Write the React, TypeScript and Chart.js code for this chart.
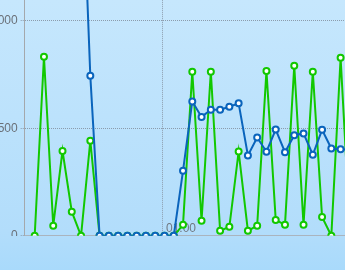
import React, { useEffect, useRef } from 'react';
import { Chart, registerables } from 'chart.js';

Chart.register(...registerables);

// Data (index along the x axis, one value per sample)
const SAMPLE_INDEX = [
  0, 1, 2, 3, 4, 5, 6, 7, 8, 9, 10, 11, 12, 13, 14, 15, 16, 17,
  18, 19, 20, 21, 22, 23, 24, 25, 26, 27, 28, 29, 30, 31, 32, 33, 34,
];
const BLUE_VALUES = [
  null, null, null, null, null, 1860, 744, 0, 0, 0, 0, 0, 0, 0, 0, 0, 302, 625,
  553, 586, 586, 600, 616, 374, 457, 391, 494, 389, 468, 476, 377, 493, 406, 403, 400,
];
const GREEN_VALUES = [
  0, 833, 47, 395, 112, 0, 442, 0, 0, 0, 0, 0, 0, 0, 0, 0, 51, 763,
  70, 763, 23, 42, 392, 23, 47, 767, 74, 51, 791, 51, 763, 88, 0, 828, 30,
];
const Y_TICKS = [0, 500, 1000];
const X_TICK_POSITIONS = [13.84];
const X_TICK_LABELS = ['01:00'];

// Layout constants (view window)
const VIEW_W = 345;
const VIEW_H = 270;
const CLIP_H = 236;
const AXIS_X = 24;
const AXIS_Y = 235;
const PX_PER_Y = 0.215;
const PX_PER_X = 9.27;
const X_MIN = -10 / PX_PER_X;

const FONT = "'Liberation Sans', Arial, sans-serif";

export default function App() {
  const ref = useRef<HTMLCanvasElement | null>(null);

  useEffect(() => {
    document.body.style.margin = '0';
    const canvas = ref.current;
    if (!canvas) return;

    const blue = SAMPLE_INDEX.map((x, i) => ({ x, y: BLUE_VALUES[i] }));
    const green = SAMPLE_INDEX.map((x, i) => ({ x, y: GREEN_VALUES[i] }));

    const chart = new Chart(canvas, {
      type: 'line',
      data: {
        datasets: [
          {
            data: blue as any,
            borderColor: '#0a64bc',
            backgroundColor: '#ffffff',
            borderWidth: 2,
            pointRadius: 3,
            pointBorderWidth: 2,
            pointBackgroundColor: '#ffffff',
            pointBorderColor: '#0a64bc',
            tension: 0,
            spanGaps: false,
          },
          {
            data: green as any,
            borderColor: '#12c800',
            backgroundColor: '#ffffff',
            borderWidth: 2,
            pointRadius: 3,
            pointBorderWidth: 2,
            pointBackgroundColor: '#ffffff',
            pointBorderColor: '#12c800',
            tension: 0,
          },
        ],
      },
      options: {
        responsive: false,
        animation: false,
        events: [],
        layout: { padding: 0 },
        plugins: {
          legend: { display: false },
          tooltip: { enabled: false },
          title: { display: false },
        },
        scales: {
          x: {
            type: 'linear',
            min: X_MIN,
            max: 34.3,
            afterBuildTicks: (scale: any) => {
              scale.ticks = X_TICK_POSITIONS.map((v) => ({ value: v }));
            },
            ticks: {
              autoSkip: false,
              maxRotation: 0,
              align: 'start',
              labelOffset: 3,
              padding: -14,
              color: '#707880',
              font: { family: FONT, size: 12 },
              callback: (_v: any, idx: number) => X_TICK_LABELS[idx],
            },
            grid: {
              color: '#8c9cac',
              drawTicks: false,
              lineWidth: 1,
            },
            border: { display: true, color: '#aab4be', width: 1, dash: [1, 1] },
          },
          y: {
            type: 'linear',
            min: 0,
            max: 1200,
            afterBuildTicks: (scale: any) => {
              scale.ticks = Y_TICKS.map((v) => ({ value: v }));
            },
            ticks: {
              padding: 3,
              color: '#6a7078',
              font: { family: FONT, size: 12 },
              callback: (v: any) => String(v),
            },
            grid: {
              color: '#8c9cac',
              lineWidth: 1,
              tickLength: 4,
              tickColor: '#8c9cac',
              tickBorderDash: [1, 1],
            },
            border: { display: true, color: '#a4a8ac', width: 1, dash: [1, 1] },
          },
        },
      },
    });

    const ca = chart.chartArea;
    (chart.options.scales as any).y.max = (ca.bottom - ca.top) / PX_PER_Y;
    (chart.options.scales as any).x.max = X_MIN + (ca.right - ca.left) / PX_PER_X;
    chart.update();
    const ca2 = chart.chartArea;
    // the 1px axis lines are snapped to these pixel rows/columns by Chart.js
    const axisCol = Math.round(ca2.left - 0.5);
    const axisRow = Math.round(ca2.bottom - 0.5);
    canvas.style.left = AXIS_X - axisCol + 'px';
    canvas.style.top = AXIS_Y - axisRow + 'px';

    return () => chart.destroy();
  }, []);

  return (
    <div
      style={{
        position: 'relative',
        width: VIEW_W,
        height: VIEW_H,
        overflow: 'hidden',
        background: 'linear-gradient(to bottom, #c6e7fd 0%, #b2ddfb 86%, #a9dafb 100%)',
      }}
    >
      <div
        style={{
          position: 'absolute',
          left: 0,
          top: 0,
          width: VIEW_W,
          height: CLIP_H,
          overflow: 'hidden',
        }}
      >
        <canvas
          ref={ref}
          width={380}
          height={300}
          style={{ position: 'absolute', left: 0, top: 0, width: 380, height: 300 }}
        />
      </div>
    </div>
  );
}
